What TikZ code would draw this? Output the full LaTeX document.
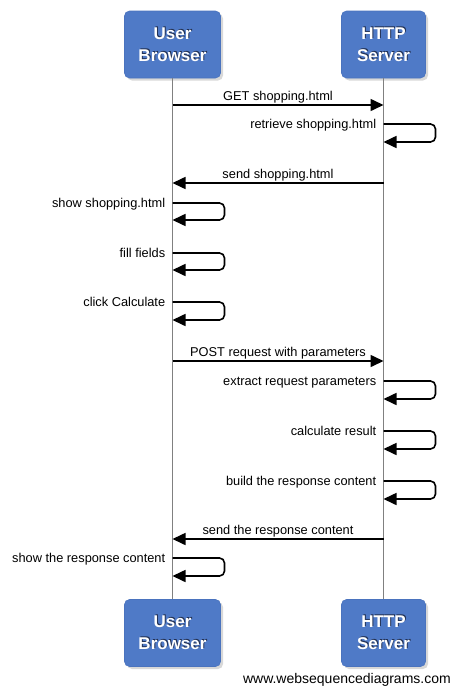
\documentclass[tikz,border=0pt]{standalone}
\usepackage{fontspec}
\setmainfont{Liberation Sans}
\usetikzlibrary{arrows.meta,shadows}
\definecolor{boxblue}{RGB}{79,122,199}
\definecolor{boxedge}{RGB}{74,115,190}
\definecolor{lifegray}{RGB}{128,128,128}
\definecolor{txtshadow}{RGB}{35,50,85}
\begin{document}
\begin{tikzpicture}[x=1pt,y=-1pt,
  actor/.style={draw=boxedge, line width=0.6pt, fill=boxblue, rounded corners=5pt,
    minimum height=67pt, inner sep=0pt,
    drop shadow={shadow xshift=2.5pt, shadow yshift=-2.5pt, opacity=0.3}},
  atext/.style={font=\fontsize{17}{22}\selectfont\bfseries, align=center, text=white, inner sep=0pt},
  ashadow/.style={atext, text=txtshadow},
  life/.style={draw=lifegray, line width=1.7pt},
  msg/.style={line width=1.6pt, -{Triangle[length=13pt,width=12pt]}},
  lbl/.style={font=\fontsize{12.8}{15}\selectfont, inner sep=0pt},
  mlbl/.style={lbl, anchor=base, yshift=4.5pt},
  llbl/.style={lbl, anchor=base east, xshift=-6.5pt, yshift=-4.5pt},
  loop/.style={msg, rounded corners=5pt}
]
\useasboundingbox (0,0) rectangle (453,688);
\fill[white] (0,0) rectangle (453,688);

% actor boxes
\node[actor, minimum width=96pt] (ub) at (172.5,44.5) {};
\node[actor, minimum width=84pt] (hs) at (383.5,44.5) {};
\node[actor, minimum width=96pt] (ub2) at (172.5,633) {};
\node[actor, minimum width=84pt] (hs2) at (383.5,633) {};

\node[ashadow] (ubs) at ([shift={(1,-1)}]ub.center) {User\\Browser};
\node[atext] (ubt) at (ub.center) {User\\Browser};
\node[ashadow] (hss) at ([shift={(1,-1)}]hs.center) {HTTP\\Server};
\node[atext] (hst) at (hs.center) {HTTP\\Server};
\node[ashadow] (ub2s) at ([shift={(1,-1)}]ub2.center) {User\\Browser};
\node[atext] (ub2t) at (ub2.center) {User\\Browser};
\node[ashadow] (hs2s) at ([shift={(1,-1)}]hs2.center) {HTTP\\Server};
\node[atext] (hs2t) at (hs2.center) {HTTP\\Server};

% lifelines
\draw[life] (ub.south) -- (ub2.north);
\draw[life] (hs.south) -- (hs2.north);

% messages
\draw[msg] (ub.south |- 0,105) -- node[mlbl] (l1) {GET shopping.html} (hs.south |- 0,105);
\draw[loop] (hs.south |- 0,124) node[llbl] (l2) {retrieve shopping.html} -- ++(52,0) |- (hs.south |- 0,142);
\draw[msg] (hs.south |- 0,183) -- node[mlbl] (l3) {send shopping.html} (ub.south |- 0,183);
\draw[loop] (ub.south |- 0,203) node[llbl] (l4) {show shopping.html} -- ++(52,0) |- (ub.south |- 0,220);
\draw[loop] (ub.south |- 0,253) node[llbl] (l5) {fill fields} -- ++(52,0) |- (ub.south |- 0,270);
\draw[loop] (ub.south |- 0,302) node[llbl] (l6) {click Calculate} -- ++(52,0) |- (ub.south |- 0,320);
\draw[msg] (ub.south |- 0,361) -- node[mlbl] (l7) {POST request with parameters} (hs.south |- 0,361);
\draw[loop] (hs.south |- 0,381) node[llbl] (l8) {extract request parameters} -- ++(52,0) |- (hs.south |- 0,399);
\draw[loop] (hs.south |- 0,431) node[llbl] (l9) {calculate result} -- ++(52,0) |- (hs.south |- 0,449);
\draw[loop] (hs.south |- 0,481) node[llbl] (l10) {build the response content} -- ++(52,0) |- (hs.south |- 0,499);
\draw[msg] (hs.south |- 0,539) -- node[mlbl] (l11) {send the response content} (ub.south |- 0,539);
\draw[loop] (ub.south |- 0,558) node[llbl] (l12) {show the response content} -- ++(52,0) |- (ub.south |- 0,576);

% footer
\node[font=\fontsize{14}{16}\selectfont, anchor=base east, inner sep=0pt] (foot) at (451,683) {www.websequencediagrams.com};
\end{tikzpicture}
\end{document}
